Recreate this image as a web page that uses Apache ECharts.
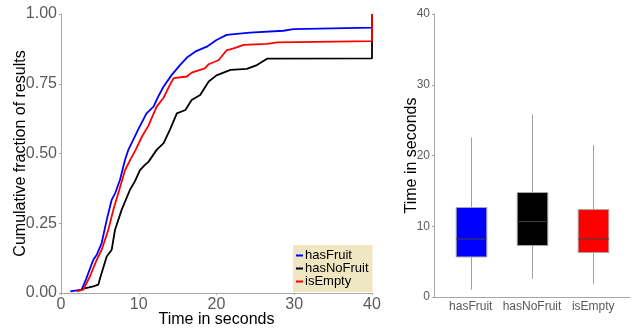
<!DOCTYPE html>
<html>
<head>
<meta charset="utf-8">
<script src="https://cdn.jsdelivr.net/npm/echarts@6/dist/echarts.min.js"></script>
<style>
html,body{margin:0;padding:0;background:#fff;}
#c{width:638px;height:329px;}
</style>
</head>
<body>
<div id="c"></div>
<script>
// ---- ECDF data (left panel) ----
const seriesNames = ['hasFruit', 'hasNoFruit', 'isEmpty'];
const seriesColors = ['#0000ff', '#000000', '#ff0000'];

const hasFruitT = [1.2, 2.66, 3.2, 4.16, 4.6, 5.23, 5.88, 6.52, 7.0, 7.59, 8.23, 8.66, 9.3, 10.0, 11.0, 11.9, 12.5, 13.2, 14.2, 15.3, 16.2, 17.25, 18.75, 20.0, 21.3, 24.3, 28.6, 29.9, 40, 40];
const hasFruitF = [0.006, 0.012, 0.048, 0.119, 0.137, 0.179, 0.262, 0.334, 0.36, 0.406, 0.477, 0.513, 0.55, 0.59, 0.644, 0.668, 0.704, 0.74, 0.78, 0.817, 0.844, 0.865, 0.883, 0.907, 0.925, 0.933, 0.94, 0.946, 0.951, 1.0];

const hasNoFruitT = [2.6, 3.6, 4.16, 4.8, 5.1, 5.88, 6.52, 6.95, 7.8, 8.87, 9.5, 10.16, 10.8, 11.25, 12.3, 13.2, 14.0, 14.9, 16.0, 16.8, 17.9, 19.0, 20.0, 21.8, 23.9, 25.2, 26.5, 40, 40];
const hasNoFruitF = [0.014, 0.02, 0.024, 0.03, 0.06, 0.131, 0.155, 0.227, 0.298, 0.37, 0.40, 0.44, 0.459, 0.47, 0.513, 0.537, 0.585, 0.644, 0.656, 0.692, 0.71, 0.758, 0.78, 0.80, 0.803, 0.817, 0.84, 0.841, 1.0];

const isEmptyT = [2.0, 2.87, 3.73, 4.59, 5.23, 6.09, 6.73, 7.5, 8.23, 8.9, 9.6, 10.4, 11.25, 12.3, 13.2, 14.0, 14.5, 16.2, 16.8, 18.5, 19.0, 20.3, 21.3, 22.2, 23.5, 26.5, 27.8, 40, 40];
const isEmptyF = [0.006, 0.012, 0.06, 0.119, 0.155, 0.227, 0.298, 0.37, 0.44, 0.477, 0.513, 0.56, 0.60, 0.668, 0.70, 0.746, 0.77, 0.776, 0.79, 0.805, 0.82, 0.835, 0.87, 0.877, 0.889, 0.893, 0.898, 0.903, 1.0];

const cdfXTicks = [0, 10, 20, 30, 40];
const cdfYTicks = [0, 0.25, 0.5, 0.75, 1.0];

// ---- Boxplot data (right panel) ----
const boxCats = ['hasFruit', 'hasNoFruit', 'isEmpty'];
const boxMin = [1.05, 2.55, 1.85];
const boxQ1 = [5.66, 7.27, 6.28];
const boxMedian = [8.2, 10.66, 8.2];
const boxQ3 = [12.65, 14.77, 12.36];
const boxMax = [22.55, 25.8, 21.46];
const boxYTicks = [0, 10, 20, 30, 40];

const allT = [hasFruitT, hasNoFruitT, isEmptyT];
const allF = [hasFruitF, hasNoFruitF, isEmptyF];

const FONT = 'Liberation Sans, Arial, sans-serif';
const axisGrey = '#a6a6a6';
const labelGrey = '#5a5a5a';

const chart = echarts.init(document.getElementById('c'), null, {renderer: 'canvas'});

const lineSeries = seriesNames.map((name, i) => ({
  name: name,
  type: 'line',
  xAxisIndex: 0,
  yAxisIndex: 0,
  showSymbol: false,
  symbol: 'none',
  color: seriesColors[i],
  lineStyle: {color: seriesColors[i], width: 1.8},
  data: allT[i].map((t, j) => [t, allF[i][j]]),
  z: 2 + i
}));

const boxData = boxCats.map((c, i) => [i + 1, boxMin[i], boxQ1[i], boxMedian[i], boxQ3[i], boxMax[i]]);

const boxSeries = {
  type: 'custom',
  xAxisIndex: 1,
  yAxisIndex: 1,
  data: boxData,
  renderItem: function (params, api) {
    const x = api.value(0);
    const i = params.dataIndex;
    const pMin = api.coord([x, api.value(1)]);
    const pQ1 = api.coord([x, api.value(2)]);
    const pMed = api.coord([x, api.value(3)]);
    const pQ3 = api.coord([x, api.value(4)]);
    const pMax = api.coord([x, api.value(5)]);
    const halfW = api.size([0.5, 0])[0] / 2;
    const cx = Math.round(pMed[0]) + 0.5;
    return {
      type: 'group',
      children: [
        {type: 'line', shape: {x1: cx, y1: pMax[1], x2: cx, y2: pQ3[1]}, style: {stroke: '#a0a0a0', lineWidth: 1}},
        {type: 'line', shape: {x1: cx, y1: pQ1[1], x2: cx, y2: pMin[1]}, style: {stroke: '#a0a0a0', lineWidth: 1}},
        {type: 'rect', shape: {x: cx - halfW, y: pQ3[1], width: halfW * 2, height: pQ1[1] - pQ3[1]},
          style: {fill: seriesColors[i], stroke: '#a8a8a8', lineWidth: 1}},
        {type: 'line', shape: {x1: cx - halfW, y1: pMed[1], x2: cx + halfW, y2: pMed[1]}, style: {stroke: '#404040', lineWidth: 1}}
      ]
    };
  }
};

const option = {
  animation: false,
  backgroundColor: '#ffffff',
  textStyle: {fontFamily: FONT},
  legend: {
    data: seriesNames,
    orient: 'vertical',
    left: 293,
    top: 245,
    width: 79,
    backgroundColor: '#efe6c2',
    padding: [4, 4, 4, 3],
    itemGap: 0,
    itemWidth: 7,
    itemHeight: 2,
    icon: 'rect',
    textStyle: {fontFamily: FONT, fontSize: 13, color: '#000', lineHeight: 11, padding: [0, 0, 0, -3]}
  },
  grid: [
    {left: 61, top: 14, width: 311, height: 279, containLabel: false, outerBoundsMode: 'none'},
    {left: 434, top: 14, width: 196, height: 283, containLabel: false, outerBoundsMode: 'none'}
  ],
  xAxis: [
    {
      gridIndex: 0, type: 'value', min: 0, max: 40, interval: 10,
      axisLine: {show: true, onZero: false, lineStyle: {color: axisGrey, width: 1}},
      axisTick: {show: true, length: 2, lineStyle: {color: axisGrey}},
      splitLine: {show: false},
      axisLabel: {fontSize: 16, color: labelGrey, margin: 4, fontFamily: FONT,
        customValues: cdfXTicks},
      name: 'Time in seconds', nameLocation: 'middle', nameGap: 19, nameMoveOverlap: false,
      nameTextStyle: {fontSize: 16, color: '#000', fontFamily: FONT}
    },
    {
      gridIndex: 1, type: 'value', min: 0.4, max: 3.6,
      axisLine: {show: true, onZero: false, lineStyle: {color: axisGrey, width: 1}},
      axisTick: {show: false},
      splitLine: {show: false},
      axisLabel: {fontSize: 12, color: labelGrey, margin: 4, fontFamily: FONT,
        customValues: [1, 2, 3],
        formatter: v => boxCats[Math.round(v) - 1] || ''}
    }
  ],
  yAxis: [
    {
      gridIndex: 0, type: 'value', min: 0, max: 1, interval: 0.25,
      axisLine: {show: true, onZero: false, lineStyle: {color: axisGrey, width: 1}},
      axisTick: {show: true, length: 2, lineStyle: {color: axisGrey}},
      splitLine: {show: false},
      axisLabel: {fontSize: 16, color: labelGrey, margin: 4, fontFamily: FONT,
        formatter: v => v.toFixed(2)},
      name: 'Cumulative fraction of results', nameLocation: 'middle', nameGap: 32, nameRotate: 90,
      nameMoveOverlap: false,
      nameTextStyle: {fontSize: 16, color: '#000', fontFamily: FONT}
    },
    {
      gridIndex: 1, type: 'value', min: 0, max: 40, interval: 10,
      axisLine: {show: true, onZero: false, lineStyle: {color: axisGrey, width: 1}},
      axisTick: {show: true, length: 2, lineStyle: {color: axisGrey}},
      splitLine: {show: false},
      axisLabel: {fontSize: 12, color: labelGrey, margin: 4, fontFamily: FONT},
      name: 'Time in seconds', nameLocation: 'middle', nameGap: 14, nameRotate: 90,
      nameMoveOverlap: false,
      nameTextStyle: {fontSize: 16, color: '#000', fontFamily: FONT}
    }
  ],
  series: lineSeries.concat([boxSeries])
};

chart.setOption(option);
</script>
</body>
</html>
